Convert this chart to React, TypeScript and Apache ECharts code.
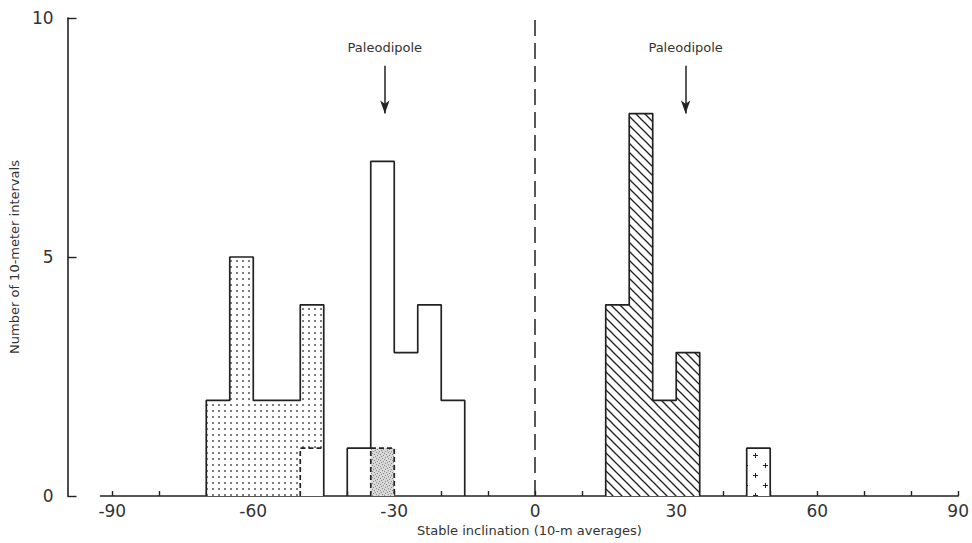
import React, { useEffect, useRef } from "react";
import * as echarts from "echarts";

// ---- data (bin starts, 5-degree bins) ----
const binWidth = 5;
const stippleStarts = [-70, -65, -60, -55, -50];
const stippleCounts = [2, 5, 2, 2, 4];
const stippleDashedStarts = [-50];
const stippleDashedCounts = [1];
const openStarts = [-40, -35, -30, -25, -20];
const openCounts = [1, 7, 3, 4, 2];
const openDenseStarts = [-35];
const openDenseCounts = [1];
const hatchStarts = [15, 20, 25, 30];
const hatchCounts = [4, 8, 2, 3];
const crossStarts = [45];
const crossCounts = [1];
const paleodipoleX = [-32, 32];
const arrowFrom = 9;
const arrowTo = 8;
const zeroLineX = 0;
const xTickValues = [-90, -80, -70, -60, -50, -40, -30, -20, -10, 0, 10, 20, 30, 40, 50, 60, 70, 80, 90];
const xLabelValues = [-90, -60, -30, 0, 30, 60, 90];
const yLabelValues = [0, 5, 10];

const FONT = "DejaVu Sans";
const INK = "#222";

function stepOutline(starts: number[], counts: number[], w: number, close = true) {
  const pts: number[][] = [[starts[0], 0]];
  starts.forEach((s, i) => {
    pts.push([s, counts[i]]);
    pts.push([s + w, counts[i]]);
  });
  if (close) pts.push([starts[starts.length - 1] + w, 0]);
  return pts;
}

function makePattern(size: number, draw: (ctx: CanvasRenderingContext2D) => void) {
  const c = document.createElement("canvas");
  c.width = size;
  c.height = size;
  const ctx = c.getContext("2d") as CanvasRenderingContext2D;
  draw(ctx);
  return { image: c.toDataURL(), repeat: "repeat", imageWidth: size, imageHeight: size } as any;
}

export default function App() {
  const ref = useRef<HTMLDivElement>(null);
  useEffect(() => {
    if (!ref.current) return;
    const chart = echarts.init(ref.current, null, { renderer: "svg" });

    const dotPattern = makePattern(6, (ctx) => {
      ctx.fillStyle = "#fff";
      ctx.fillRect(0, 0, 6, 6);
      ctx.fillStyle = "#555";
      ctx.beginPath();
      ctx.arc(3, 3, 1, 0, Math.PI * 2);
      ctx.fill();
    });
    const densePattern = makePattern(6, (ctx) => {
      ctx.fillStyle = "#d8d8d8";
      ctx.fillRect(0, 0, 6, 6);
      ctx.fillStyle = "#888";
      [[1, 1], [4, 2], [2, 4], [5, 5], [0, 3], [3, 0]].forEach(([x, y]) => ctx.fillRect(x, y, 1, 1));
    });
    const hatchPattern = makePattern(9, (ctx) => {
      ctx.fillStyle = "#fff";
      ctx.fillRect(0, 0, 9, 9);
      ctx.strokeStyle = INK;
      ctx.lineWidth = 1.3;
      [-9, 0, 9].forEach((o) => {
        ctx.beginPath();
        ctx.moveTo(-1 + o, -1);
        ctx.lineTo(10 + o, 10);
        ctx.stroke();
      });
    });
    const crossPattern = makePattern(20, (ctx) => {
      ctx.fillStyle = "#fff";
      ctx.fillRect(0, 0, 20, 20);
      ctx.strokeStyle = INK;
      ctx.lineWidth = 1;
      [[5, 5], [15, 15]].forEach(([x, y]) => {
        ctx.beginPath();
        ctx.moveTo(x - 2, y + 0.5);
        ctx.lineTo(x + 3, y + 0.5);
        ctx.moveTo(x + 0.5, y - 2);
        ctx.lineTo(x + 0.5, y + 3);
        ctx.stroke();
      });
    });

    const fillSeries = (data: number[][], fill: any, z: number) => ({
      type: "line",
      data,
      symbol: "none",
      z,
      silent: true,
      lineStyle: { width: 0, opacity: 0 },
      areaStyle: { color: fill, opacity: 1 },
    });
    const outlineSeries = (data: number[][], dashed = false, extra: any = {}) => ({
      type: "line",
      data,
      symbol: "none",
      z: 5,
      silent: true,
      lineStyle: { width: 1.7, color: INK, type: dashed ? [5, 3] : "solid" },
      ...extra,
    });

    const arrowLines = paleodipoleX.map((x) => [
      { coord: [x, arrowFrom], symbol: "none" },
      { coord: [x, arrowTo], symbol: "arrow", symbolSize: [7, 13] },
    ]);

    chart.setOption({
      animation: false,
      backgroundColor: "#fff",
      grid: { left: 95, right: 11, top: 18, bottom: 47 },
      xAxis: {
        type: "value",
        min: -92.5,
        max: 90,
        splitLine: { show: false },
        axisLine: { show: true, onZero: false, lineStyle: { color: INK, width: 1.6 } },
        axisTick: { show: true, inside: true, length: 5, customValues: xTickValues, lineStyle: { color: INK, width: 1.4 } },
        axisLabel: { customValues: xLabelValues, margin: 6, fontSize: 17, color: "#333", fontFamily: FONT },
        name: "Stable inclination (10-m averages)",
        nameLocation: "middle",
        nameGap: 21,
        nameTextStyle: { fontSize: 13, color: "#333", fontFamily: FONT },
      },
      yAxis: {
        type: "value",
        min: 0,
        max: 10,
        interval: 5,
        offset: 33,
        splitLine: { show: false },
        axisLine: { show: true, onZero: false, lineStyle: { color: INK, width: 1.6 } },
        axisTick: { show: true, inside: true, length: 9, lineStyle: { color: INK, width: 1.4 } },
        axisLabel: { customValues: yLabelValues, margin: 14, fontSize: 17, color: "#333", fontFamily: FONT },
        name: "Number of 10-meter intervals",
        nameLocation: "middle",
        nameGap: 40,
        nameTextStyle: { fontSize: 13, color: "#333", fontFamily: FONT },
      },
      series: [
        fillSeries(stepOutline(stippleStarts, stippleCounts, binWidth), dotPattern, 1),
        fillSeries(stepOutline(stippleDashedStarts, stippleDashedCounts, binWidth), "#fff", 2),
        fillSeries(stepOutline(openDenseStarts, openDenseCounts, binWidth), densePattern, 2),
        fillSeries(stepOutline(hatchStarts, hatchCounts, binWidth), hatchPattern, 1),
        fillSeries(stepOutline(crossStarts, crossCounts, binWidth), crossPattern, 1),
        outlineSeries(stepOutline(stippleStarts, stippleCounts, binWidth)),
        outlineSeries(stepOutline(stippleDashedStarts, stippleDashedCounts, binWidth, false), true),
        outlineSeries(stepOutline(openStarts, openCounts, binWidth), false, {
          markLine: {
            silent: true,
            symbol: ["none", "none"],
            lineStyle: { color: INK, width: 1.5, type: [16, 7] },
            label: { show: false },
            data: [{ xAxis: zeroLineX }],
          },
        }),
        outlineSeries(stepOutline(openDenseStarts, openDenseCounts, binWidth), true),
        outlineSeries(stepOutline(hatchStarts, hatchCounts, binWidth), false, {
          markLine: {
            silent: true,
            lineStyle: { color: INK, width: 1.5, type: "solid" },
            label: {
              show: true,
              position: "start",
              distance: 12,
              formatter: "Paleodipole",
              fontSize: 13,
              color: "#333",
              fontFamily: FONT,
            },
            data: arrowLines,
          },
        }),
        outlineSeries(stepOutline(crossStarts, crossCounts, binWidth)),
      ],
    });
    return () => chart.dispose();
  }, []);
  return <div ref={ref} style={{ width: 972, height: 543, position: "absolute", left: 0, top: 0 }} />;
}
